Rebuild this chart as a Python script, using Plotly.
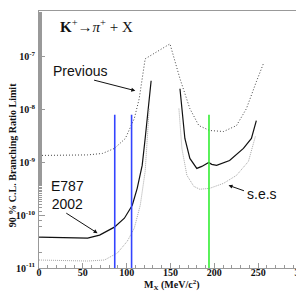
import plotly.graph_objects as go

# ---- data (M_X in MeV/c^2, 90% C.L. branching-ratio limits) ----
prev_m = [0, 55.5, 72.5, 86.0, 98.5, 108.7, 114.3, 117.7, 121.1, 149.4, 160.8, 172.1, 182.3, 194.7, 210.6, 225.3, 236.6, 247.9, 255.9]
prev_v = [1.355e-9, 1.387e-9, 1.48e-9, 1.84e-9, 2.84e-9, 6.76e-9, 1.61e-8, 3.85e-8, 9.16e-8, 1.76e-7, 3.85e-8, 1.045e-8, 4.99e-9, 4.02e-9, 3.85e-9, 4.99e-9, 1.045e-8, 3.37e-8, 7.38e-8]

e787_left_m = [0, 55.5, 69.1, 86.0, 97.4, 106.4, 112.0, 117.7, 121.1, 127.9]
e787_left_v = [3.85e-11, 3.68e-11, 4.2e-11, 5.94e-11, 8.77e-11, 1.545e-10, 3.23e-10, 8.77e-10, 2.84e-9, 3.52e-8]
e787_right_m = [160.8, 166.4, 172.1, 180.0, 185.7, 193.6, 197.0, 202.6, 217.4, 233.2, 242.3, 247.9]
e787_right_v = [2.49e-8, 2.84e-9, 1.19e-9, 7.7e-10, 8.4e-10, 1.0e-9, 9.2e-10, 8.77e-10, 1.09e-9, 1.84e-9, 2.84e-9, 6.2e-9]

ses_left_m = [0, 55.5, 74.7, 89.4, 100.8, 108.7, 115.5, 121.1, 125.7]
ses_left_v = [1.416e-11, 1.355e-11, 1.416e-11, 1.92e-11, 3.23e-11, 5.69e-11, 1.545e-10, 6.76e-10, 1.045e-8]
ses_right_m = [159.6, 163.0, 168.7, 176.6, 183.4, 194.7, 210.6, 225.3, 238.9, 245.7, 246.8]
ses_right_v = [1.045e-8, 1.84e-9, 5.69e-10, 3.52e-10, 3.1e-10, 3.23e-10, 4.02e-10, 5.69e-10, 1.045e-9, 2.49e-9, 3.1e-9]

blue_m = [86.4, 105.6]
green_m = [193.9]
line_bottom = 1e-11
line_top = 8e-9

x_ticks = [0, 50, 100, 150, 200, 250, 300]
y_ticks = [1e-11, 1e-10, 1e-9, 1e-8, 1e-7]
y_ticktext = ["10<sup>-11</sup>", "10<sup>-10</sup>", "10<sup>-9</sup>", "10<sup>-8</sup>", "10<sup>-7</sup>"]

serif = "Liberation Serif"
sans = "Liberation Sans"
ink = "#111111"

fig = go.Figure()

def add(x, y, color, dash, width):
    fig.add_trace(go.Scatter(x=x, y=y, mode="lines", line=dict(color=color, dash=dash, width=width),
                             hoverinfo="skip", showlegend=False))

add(prev_m, prev_v, "#444444", "1px,2px", 1)
add(e787_left_m, e787_left_v, ink, "solid", 1.2)
add(e787_right_m, e787_right_v, ink, "solid", 1.2)
add(ses_left_m, ses_left_v, "#a8a8a8", "1px,1px", 1)
add(ses_right_m, ses_right_v, "#a8a8a8", "1px,1px", 1)

for m in blue_m:
    add([m, m], [line_bottom, line_top], "#3344ff", "solid", 1.6)
for m in green_m:
    add([m, m], [line_bottom, line_top], "#33ee33", "solid", 1.6)

ann_font = dict(family=sans, size=14, color=ink)
fig.add_annotation(x=46.4, y=-7.264, text="Previous", showarrow=False, font=ann_font)
fig.add_annotation(x=32.8, y=-9.613, text="E787<br>2002", showarrow=False, font=ann_font)
fig.add_annotation(x=254.7, y=-9.604, text="s.e.s", showarrow=False, font=ann_font)

def arrow(hx, hy, tx, ty):
    fig.add_annotation(x=hx, y=hy, ax=tx, ay=ty, axref="x", ayref="y", xref="x", yref="y",
                       text="", showarrow=True, arrowhead=2, arrowsize=0.8, arrowwidth=1, arrowcolor=ink)

arrow(109.8, -7.642, 61.1, -7.434)
arrow(66.8, -10.340, 29.4, -9.943)
arrow(216.2, -9.434, 235.5, -9.547)

fig.add_annotation(x=65.7, y=-6.415, xref="x", yref="y",
                   text="<b>K</b><sup>+</sup>→<i>π</i><sup>+</sup> + X", showarrow=False,
                   font=dict(family=serif, size=15, color=ink))

# axis titles
fig.add_annotation(x=0.504, y=-0.068, xref="paper", yref="paper", xanchor="center", yanchor="middle",
                   text="<b>M<sub>X</sub> (MeV/c<sup>2</sup>)</b>", showarrow=False,
                   font=dict(family=serif, size=10, color=ink))
fig.add_annotation(x=-0.098, y=0.44, xref="paper", yref="paper", xanchor="center", yanchor="middle",
                   textangle=-90,
                   text="<b>90 % C.L. Branching Ratio Limit</b>", showarrow=False,
                   font=dict(family=serif, size=10, color=ink))

axis_common = dict(showline=True, linecolor="#999999", linewidth=1, mirror=True, ticks="inside",
                   tickcolor="#999999", showgrid=False, zeroline=False,
                   tickfont=dict(family=serif, size=10, color=ink))

fig.update_xaxes(range=[0, 300], tickvals=x_ticks, ticktext=[f"<b>{v}</b>" for v in x_ticks], ticklen=5,
                 ticklabelstandoff=-5,
                 minor=dict(ticks="inside", ticklen=3, dtick=10, tickcolor="#999999"),
                 **axis_common)
fig.update_yaxes(type="log", range=[-11, -6.132], tickvals=y_ticks, ticktext=[f"<b>{t}</b>" for t in y_ticktext], ticklen=6,
                 ticklabelstandoff=1,
                 minor=dict(ticks="inside", ticklen=3, tickcolor="#999999"),
                 **axis_common)

fig.update_layout(width=304, height=291, margin=dict(l=31, r=8, t=2, b=31),
                  plot_bgcolor="white", paper_bgcolor="white")

fig.write_html("out.html")
